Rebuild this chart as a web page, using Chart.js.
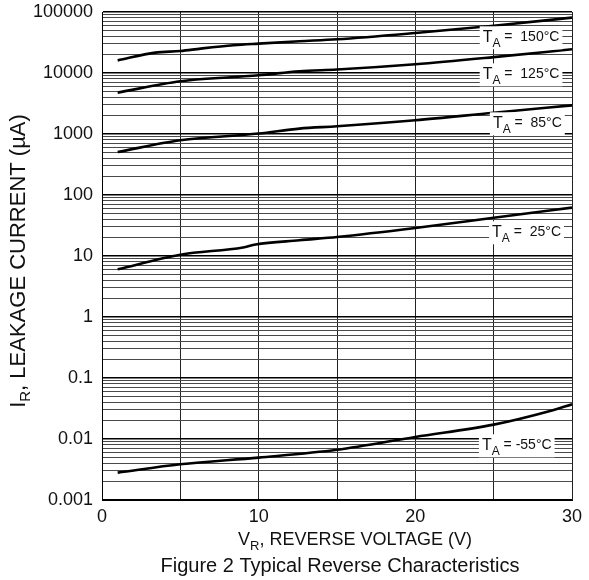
<!DOCTYPE html>
<html>
<head>
<meta charset="utf-8">
<script src="https://cdn.jsdelivr.net/npm/chart.js@4.4.1/dist/chart.umd.min.js"></script>
<style>
  html, body { margin: 0; padding: 0; background: #fff; }
  #wrap { width: 589px; height: 580px; }
</style>
</head>
<body>
<div id="wrap"><canvas id="chart" width="589" height="580"></canvas></div>
<script>
// 逆方向電圧 VR (V) と 漏れ電流 IR (µA) — 図から読み取った値
const vr150 = [1, 3.4, 5, 6.3, 8.4, 10, 12.6, 15, 20, 25, 30];
const ir150 = [16100, 21600, 22900, 25100, 28500, 30300, 33100, 35700, 45300, 59400, 80900];

const vr125 = [1, 5, 8.4, 10, 12.6, 15, 20, 25, 30];
const ir125 = [4770, 7310, 8590, 9160, 10700, 11400, 13900, 18200, 24500];

const vr85 = [1, 5, 10, 12.6, 15, 20, 25, 30];
const ir85 = [507, 789, 1016, 1227, 1337, 1679, 2235, 2950];

const vr25 = [1, 5, 9, 9.8, 12.6, 15, 20, 25, 30];
const ir25 = [6.05, 10.5, 13.8, 15.4, 18.1, 20.5, 28.8, 42.3, 62.1];

const vrM55 = [1, 5, 10, 15, 20, 25, 28.6, 30];
const irM55 = [0.00281, 0.00385, 0.00495, 0.00665, 0.0108, 0.0172, 0.0288, 0.0371];

// 目盛り
const xTicks = [0, 5, 10, 15, 20, 25, 30];
const xTickLabels = ['0', '', '10', '', '20', '', '30'];
const yDecades = [0.001, 0.01, 0.1, 1, 10, 100, 1000, 10000, 100000];
const yDecadeLabels = ['0.001', '0.01', '0.1', '1', '10', '100', '1000', '10000', '100000'];
const minorSteps = [1, 2, 3, 4, 5, 6, 7, 8, 9];

// 温度ラベル
const tempNames = ['150°C', '125°C', '85°C', '25°C', '-55°C'];

// ラベル位置（データ単位）
const tempLabelPos = [
    { v: 24.3, i: 38500 },
    { v: 24.3, i: 9520 },
    { v: 24.95, i: 1496 },
    { v: 24.9, i: 24.5 },
    { v: 24.25, i: 0.00789 }
];

const FONT = '"Liberation Sans", Arial, sans-serif';

// 対数軸のすべての目盛り（1〜9 × 10^n）
const yTickValues = [];
yDecades.forEach(function (d, idx) {
    if (idx === yDecades.length - 1) {
        yTickValues.push(d);
        return;
    }
    minorSteps.forEach(function (m) {
        yTickValues.push(parseFloat((m * d).toPrecision(6)));
    });
});

function isDecade(v) {
    return yDecades.some(function (d) { return Math.abs(d - v) / d < 1e-6; });
}

function toPoints(xs, ys) {
    return xs.map(function (x, k) { return { x: x, y: ys[k] }; });
}

// 添字付きテキストを描く
function drawParts(ctx, parts, x, y, align) {
    let total = 0;
    parts.forEach(function (p) {
        ctx.font = p.size + 'px ' + FONT;
        p.w = ctx.measureText(p.t).width;
        total += p.w;
    });
    let cx = align === 'center' ? x - total / 2 : x;
    parts.forEach(function (p) {
        ctx.font = p.size + 'px ' + FONT;
        ctx.fillText(p.t, cx, y + (p.dy || 0));
        cx += p.w;
    });
    return total;
}

const textPlugin = {
    id: 'textPlugin',
    afterDatasetsDraw: function (chart) {
        const ctx = chart.ctx;
        const xs = chart.scales.x;
        const ys = chart.scales.y;
        ctx.save();
        ctx.fillStyle = '#111';
        ctx.textBaseline = 'middle';
        ctx.textAlign = 'left';

        // 温度ラベル（白背景）
        tempNames.forEach(function (name, k) {
            const px = xs.getPixelForValue(tempLabelPos[k].v);
            const py = ys.getPixelForValue(tempLabelPos[k].i);
            const sep = name.charAt(0) === '-' ? ' = ' : ' =  ';
            const parts = [
                { t: 'T', size: 16 },
                { t: 'A', size: 12, dy: 6 },
                { t: sep + name, size: 14 }
            ];
            let w = 0;
            parts.forEach(function (p) {
                ctx.font = p.size + 'px ' + FONT;
                w += ctx.measureText(p.t).width;
            });
            ctx.fillStyle = '#fff';
            ctx.fillRect(px - 3, py - 11, w + 6, 23);
            ctx.fillStyle = '#111';
            drawParts(ctx, parts, px, py, 'left');
        });
        ctx.restore();

        // 軸タイトル
        ctx.save();
        ctx.fillStyle = '#111';
        ctx.textBaseline = 'middle';
        ctx.textAlign = 'left';
        drawParts(ctx, [
            { t: 'V', size: 18 },
            { t: 'R', size: 13, dy: 6 },
            { t: ', REVERSE VOLTAGE (V)', size: 18 }
        ], 355, 540, 'center');
        drawParts(ctx, [
            { t: 'Figure 2 Typical Reverse Characteristics', size: 20 }
        ], 340, 566, 'center');

        ctx.translate(19, 261);
        ctx.rotate(-Math.PI / 2);
        drawParts(ctx, [
            { t: 'I', size: 22 },
            { t: 'R', size: 15, dy: 7 },
            { t: ', LEAKAGE CURRENT (µA)', size: 22 }
        ], 0, 0, 'center');
        ctx.restore();
    }
};

const lineStyle = {
    borderColor: '#000',
    borderWidth: 2.6,
    pointRadius: 0,
    fill: false,
    cubicInterpolationMode: 'monotone'
};

new Chart(document.getElementById('chart'), {
    type: 'line',
    data: {
        datasets: [
            Object.assign({ label: tempNames[0], data: toPoints(vr150, ir150) }, lineStyle),
            Object.assign({ label: tempNames[1], data: toPoints(vr125, ir125) }, lineStyle),
            Object.assign({ label: tempNames[2], data: toPoints(vr85, ir85) }, lineStyle),
            Object.assign({ label: tempNames[3], data: toPoints(vr25, ir25) }, lineStyle),
            Object.assign({ label: tempNames[4], data: toPoints(vrM55, irM55) }, lineStyle)
        ]
    },
    options: {
        responsive: false,
        animation: false,
        devicePixelRatio: 1,
        layout: {
            padding: { left: 0, top: 12, right: 17, bottom: 50 }
        },
        plugins: {
            legend: { display: false },
            tooltip: { enabled: false }
        },
        scales: {
            x: {
                type: 'linear',
                min: 0,
                max: 30,
                afterFit: function (scale) {
                    scale.height = 30;
                    scale.paddingLeft = 0;
                    scale.paddingRight = 0;
                },
                afterBuildTicks: function (scale) {
                    scale.ticks = xTicks.map(function (v) { return { value: v }; });
                },
                ticks: {
                    autoSkip: false,
                    maxRotation: 0,
                    padding: 6,
                    color: '#111',
                    font: { family: FONT, size: 18 },
                    callback: function (value) {
                        const k = xTicks.indexOf(value);
                        return k >= 0 ? xTickLabels[k] : '';
                    }
                },
                grid: {
                    drawTicks: false,
                    color: '#222',
                    lineWidth: 1
                },
                border: { display: true, color: '#000', width: 1 }
            },
            y: {
                type: 'logarithmic',
                min: 0.001,
                max: 100000,
                afterFit: function (scale) {
                    scale.width = 102;
                    scale.paddingTop = 0;
                    scale.paddingBottom = 0;
                },
                afterBuildTicks: function (scale) {
                    scale.ticks = yTickValues.map(function (v) {
                        return { value: v, major: isDecade(v) };
                    });
                },
                ticks: {
                    autoSkip: false,
                    padding: 9,
                    color: '#111',
                    font: { family: FONT, size: 18 },
                    callback: function (value) {
                        for (let k = 0; k < yDecades.length; k++) {
                            if (Math.abs(yDecades[k] - value) / yDecades[k] < 1e-6) {
                                return yDecadeLabels[k];
                            }
                        }
                        return '';
                    }
                },
                grid: {
                    drawTicks: false,
                    color: function (c) {
                        return c.tick && isDecade(c.tick.value) ? '#000' : '#4a4a4a';
                    },
                    lineWidth: function (c) {
                        return c.tick && isDecade(c.tick.value) ? 1.4 : 1;
                    }
                },
                border: { display: true, color: '#000', width: 1 }
            }
        }
    },
    plugins: [textPlugin]
});
</script>
</body>
</html>
